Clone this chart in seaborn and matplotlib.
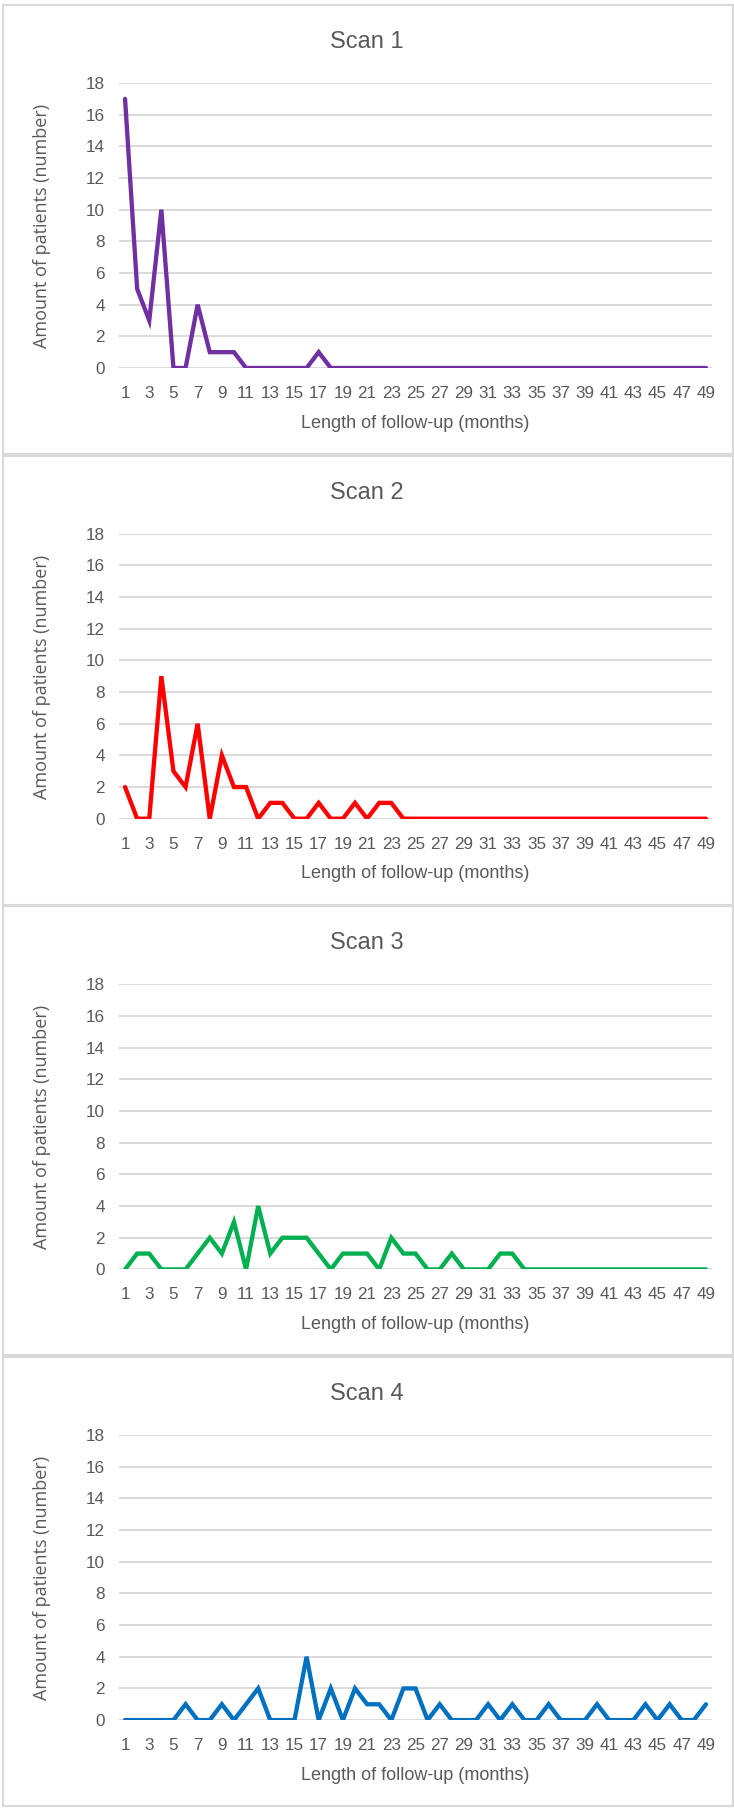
import pandas as pd
import matplotlib
matplotlib.use("Agg")
import matplotlib.pyplot as plt
from matplotlib.patches import Rectangle
import seaborn as sns

# follow-up length in months (category axis)
months = list(range(1, 50))

scan1 = [17, 5, 3, 10, 0, 0, 4, 1, 1, 1, 0, 0, 0, 0, 0, 0, 1] + [0] * 32
scan2 = [2, 0, 0, 9, 3, 2, 6, 0, 4, 2, 2, 0, 1, 1, 0, 0, 1, 0, 0, 1,
         0, 1, 1] + [0] * 26
scan3 = [0, 1, 1, 0, 0, 0, 1, 2, 1, 3, 0, 4, 1, 2, 2, 2, 1, 0, 1, 1,
         1, 0, 2, 1, 1, 0, 0, 1, 0, 0, 0, 1, 1] + [0] * 16
scan4 = [0, 0, 0, 0, 0, 1, 0, 0, 1, 0, 1, 2, 0, 0, 0, 4, 0, 2, 0, 2,
         1, 1, 0, 2, 2, 0, 1, 0, 0, 0, 1, 0, 1, 0, 0, 1, 0, 0, 0, 1,
         0, 0, 0, 1, 0, 1, 0, 0, 1]

titles = ["Scan 1", "Scan 2", "Scan 3", "Scan 4"]
series = [scan1, scan2, scan3, scan4]
colors = ["#7030A0", "#FF0000", "#00B050", "#0070C0"]

W, H = 734, 1810
TXT = "#595959"
GRID = "#D9D9D9"
fam = ["Liberation Sans", "DejaVu Sans"]

sns.set_theme(style="white")
plt.rcParams["font.family"] = fam

fig = plt.figure(figsize=(W / 100, H / 100), dpi=100)

step = 450.7
for i, (title, vals, col) in enumerate(zip(titles, series, colors)):
    off = step * i
    # panel frame
    top = 5 + off
    bot = min(454 + off, H + 5)
    fig.add_artist(Rectangle((3 / W, 1 - bot / H), 730 / W, (bot - top) / H,
                             transform=fig.transFigure, fill=False,
                             edgecolor=GRID, linewidth=1.5))

    ax = fig.add_axes([119 / W, 1 - (368 + off) / H, 593 / W, 285 / H])
    df = pd.DataFrame({"month": months, "count": vals})
    sns.lineplot(data=df, x="month", y="count", ax=ax, color=col,
                 linewidth=3.1, solid_joinstyle="miter")

    ax.set_xlim(0.5, 49.5)
    ax.set_ylim(0, 18)
    ax.set_xticks(range(1, 50, 2))
    ax.set_yticks(range(0, 19, 2))
    ax.yaxis.grid(True, color=GRID, linewidth=1.4)
    ax.xaxis.grid(False)
    ax.set_axisbelow(True)
    for s in ax.spines.values():
        s.set_visible(False)
    ax.tick_params(axis="both", length=0, labelsize=12.3, colors=TXT)
    ax.tick_params(axis="x", pad=13)
    ax.tick_params(axis="y", pad=10)
    ax.set_xlabel("")
    ax.set_ylabel("")

    fig.text(367 / W, 1 - (42 + off) / H, title, ha="center", va="center",
             fontsize=17, color=TXT)
    fig.text(415 / W, 1 - (423 + off) / H, "Length of follow-up (months)",
             ha="center", va="center", fontsize=13, color=TXT)
    fig.text(42 / W, 1 - (226 + off) / H, "Amount of patients (number)",
             ha="center", va="center", rotation=90, fontsize=13, color=TXT,
             family=["Open Sans", "DejaVu Sans"])

fig.savefig("out.png", dpi=100, facecolor="white")
